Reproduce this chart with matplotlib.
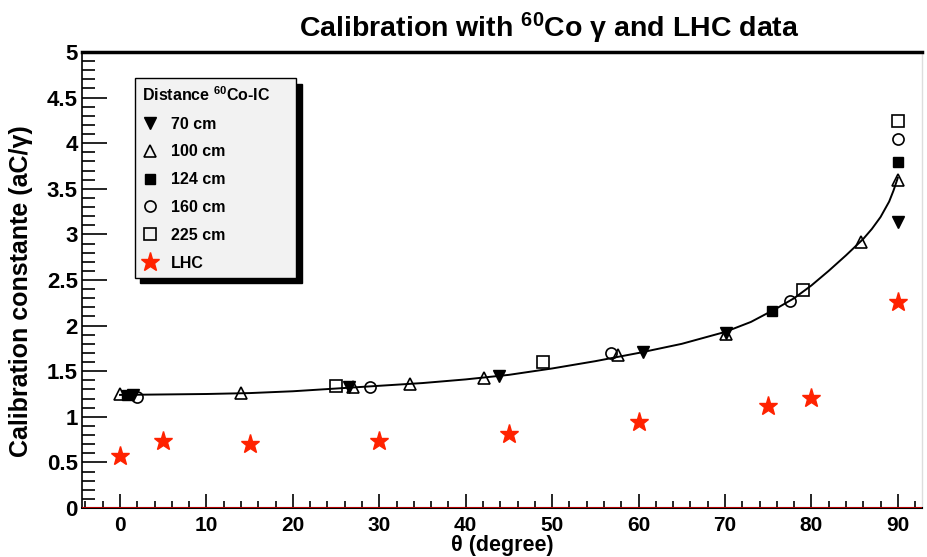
import matplotlib.pyplot as plt
from matplotlib.ticker import MultipleLocator

plt.rcParams['font.family'] = ['Liberation Sans', 'DejaVu Sans']
plt.rcParams['font.weight'] = 'bold'
plt.rcParams['axes.labelweight'] = 'bold'
plt.rcParams['mathtext.fontset'] = 'custom'
plt.rcParams['mathtext.rm'] = 'Liberation Sans:bold'
plt.rcParams['mathtext.bf'] = 'Liberation Sans:bold'
plt.rcParams['mathtext.default'] = 'rm'

# data
theta_70 = [1.5, 26.5, 43.8, 60.5, 70.1, 90]
cal_70 = [1.24, 1.33, 1.45, 1.71, 1.92, 3.14]
theta_100 = [0, 14, 27, 33.5, 42.1, 57.6, 70.1, 85.7, 90]
cal_100 = [1.25, 1.26, 1.33, 1.36, 1.43, 1.68, 1.91, 2.92, 3.60]
theta_124 = [0.8, 75.4, 90]
cal_124 = [1.24, 2.16, 3.79]
theta_160 = [2, 28.9, 56.8, 77.5, 90]
cal_160 = [1.22, 1.33, 1.70, 2.27, 4.05]
theta_225 = [25, 48.9, 79, 90]
cal_225 = [1.34, 1.60, 2.39, 4.24]
theta_lhc = [0, 5, 15, 30, 45, 60, 75, 80, 90]
cal_lhc = [0.57, 0.73, 0.70, 0.73, 0.81, 0.94, 1.12, 1.21, 2.26]

# fitted curve, read at points along the line
fit_theta = [0, 5, 10, 15, 20, 25, 30, 35, 40, 45, 50, 55, 60, 65, 70, 73, 76,
             78, 80, 82, 84, 85, 86, 87, 88, 89, 89.5, 90]
fit_cal = [1.24, 1.245, 1.25, 1.26, 1.28, 1.31, 1.34, 1.37, 1.41, 1.46, 1.53,
           1.61, 1.70, 1.80, 1.93, 2.04, 2.19, 2.30, 2.44, 2.60, 2.77, 2.86,
           2.95, 3.06, 3.19, 3.36, 3.48, 3.62]

fig = plt.figure(figsize=(9.27, 5.57), dpi=100)
ax = fig.add_axes([82 / 927, 1 - 508 / 557, 840 / 927, 456 / 557])

ax.plot(fit_theta, fit_cal, color='black', lw=1.4, zorder=2)

ax.plot(theta_70, cal_70, 'v', color='black', ms=8, ls='none', label='70 cm', zorder=3)
ax.plot(theta_100, cal_100, '^', mfc='none', mec='black', mew=1.2, ms=9, ls='none',
        label='100 cm', zorder=3)
ax.plot(theta_124, cal_124, 's', color='black', ms=7, ls='none', label='124 cm', zorder=3)
ax.plot(theta_160, cal_160, 'o', mfc='none', mec='black', mew=1.2, ms=8, ls='none',
        label='160 cm', zorder=3)
ax.plot(theta_225, cal_225, 's', mfc='none', mec='black', mew=1.2, ms=9, ls='none',
        label='225 cm', zorder=3)
ax.plot(theta_lhc, cal_lhc, '*', color='#ff2200', ms=14, ls='none', label='LHC', zorder=3)

ax.axhline(0, color='#cc0000', lw=2.0, zorder=4)

ax.set_xlim(-4.4, 92.8)
ax.set_ylim(0, 5)
ax.xaxis.set_major_locator(MultipleLocator(10))
ax.xaxis.set_minor_locator(MultipleLocator(2))
ax.yaxis.set_major_locator(MultipleLocator(0.5))
ax.yaxis.set_minor_locator(MultipleLocator(0.1))
ax.yaxis.set_major_formatter(plt.FuncFormatter(lambda v, p: '%g' % v))

ax.tick_params(axis='x', which='major', direction='in', length=10, width=1.2,
               labelsize=15, pad=6, top=False)
ax.tick_params(axis='x', which='minor', direction='in', length=5, width=1.2, top=False)
ax.tick_params(axis='y', which='major', direction='in', length=18, width=1.2,
               labelsize=16, pad=3, right=False)
ax.tick_params(axis='y', which='minor', direction='in', length=9, width=1.2, right=False)

ax.spines['top'].set_linewidth(2.5)
ax.spines['left'].set_linewidth(1.2)
ax.spines['bottom'].set_linewidth(1.5)
ax.spines['right'].set_color('#dddddd')
ax.spines['right'].set_linewidth(1.0)

ax.set_xlabel('θ (degree)', fontsize=15.5, fontweight='bold', labelpad=0)
ax.set_ylabel('Calibration constante (aC/γ)', fontsize=18, fontweight='bold')
ax.yaxis.set_label_coords(-0.058, 0.476)
fig.text(0.592, 0.918, r'Calibration with $^{60}$Co γ and LHC data',
         ha='center', va='bottom', fontsize=20.5, fontweight='bold')

leg = ax.legend(loc='upper left', bbox_to_anchor=(0.063, 0.5, 0.192, 0.443),
                mode='expand', borderaxespad=0,
                title=r'Distance $^{60}$Co-IC', fontsize=11.5, title_fontsize=11.5,
                frameon=True, fancybox=False, edgecolor='black', facecolor='#f2f2f2',
                framealpha=1, labelspacing=0.8, handlelength=1.0, handletextpad=0.8,
                borderpad=0.45, alignment='left',
                shadow={'color': 'black', 'alpha': 1, 'ox': 4, 'oy': -4})
leg.get_frame().set_linewidth(1.0)

fig.savefig('out.png', dpi=100)
